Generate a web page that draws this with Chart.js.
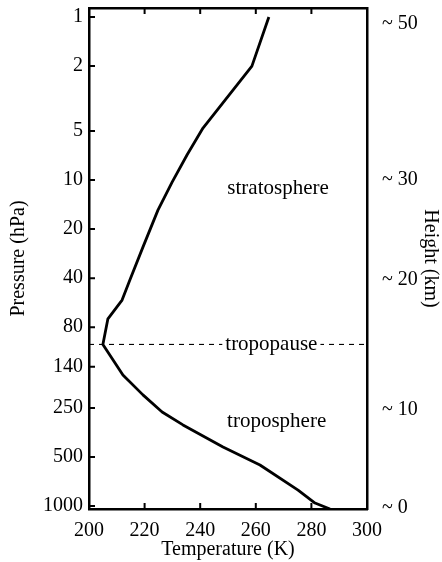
<!DOCTYPE html>
<html>
<head>
<meta charset="utf-8">
<script src="https://cdn.jsdelivr.net/npm/chart.js@4/dist/chart.umd.min.js"></script>
<style>
  html, body { margin: 0; padding: 0; background: #fff; }
  canvas { display: block; }
</style>
</head>
<body>
<canvas id="c" width="442" height="562"></canvas>
<script>
// ---- data ----
const temperatureK = [264.7, 258.6, 241.0, 235.3, 229.9, 224.8, 219.4, 214.7, 211.9, 206.8, 205.0, 212.2, 219.4, 226.3, 233.8, 248.2, 261.5, 275.2, 281.3, 286.7];
const pressureHPa  = [1, 2, 4.8, 7, 10.3, 15.3, 25.8, 41, 54.5, 71, 102, 157, 208, 265, 318, 435, 560, 798, 959, 1043];

const pressureTicks = [1, 2, 5, 10, 20, 40, 80, 140, 250, 500, 1000];
const heightTickPressures = [1.1, 10, 41, 258, 1030];
const heightTickLabels = ['~ 50', '~ 30', '~ 20', '~ 10', '~ 0'];
const temperatureTicks = [200, 220, 240, 260, 280, 300];

const tropopausePressure = 102;
const tropopauseTemps = [200, 300];

const regionTexts = ['stratosphere', 'tropopause', 'troposphere'];
const regionTemps = [268, 265.6, 267.5];
const regionPressures = [11.2, 102, 305];

const FONT = { family: '"Liberation Serif", "Times New Roman", serif', size: 20 };
const LABEL_FONT_SIZE = 21;
const P_MIN = 0.88, P_MAX = 1043;
const TICK_LEN = 6;

const labelPlugin = {
  id: 'regionLabels',
  afterDatasetsDraw(chart) {
    const ctx = chart.ctx;
    const xs = chart.scales.x, ys = chart.scales.y;
    ctx.save();
    ctx.font = LABEL_FONT_SIZE + 'px ' + FONT.family;
    ctx.textAlign = 'center';
    ctx.textBaseline = 'middle';
    regionTexts.forEach((t, i) => {
      const x = xs.getPixelForValue(regionTemps[i]);
      const y = ys.getPixelForValue(regionPressures[i]);
      const w = ctx.measureText(t).width;
      ctx.fillStyle = '#fff';
      ctx.fillRect(x - w / 2 - 3, y - 8, w + 6, 16);
      ctx.fillStyle = '#000';
      ctx.fillText(t, x, y);
    });
    ctx.restore();
  }
};

// inward tick marks, positioned through the chart's own scales
const innerTicksPlugin = {
  id: 'innerTicks',
  afterDraw(chart) {
    const ctx = chart.ctx, a = chart.chartArea;
    const xs = chart.scales.x, ys = chart.scales.y;
    ctx.save();
    ctx.strokeStyle = '#000';
    ctx.lineWidth = 2;
    ctx.beginPath();
    temperatureTicks.forEach(v => {
      const x = xs.getPixelForValue(v);
      ctx.moveTo(x, a.bottom); ctx.lineTo(x, a.bottom - TICK_LEN);
      ctx.moveTo(x, a.top); ctx.lineTo(x, a.top + TICK_LEN);
    });
    pressureTicks.forEach(v => {
      const y = ys.getPixelForValue(v);
      ctx.moveTo(a.left, y); ctx.lineTo(a.left + TICK_LEN, y);
    });
    ctx.stroke();
    ctx.restore();
  }
};

const noPadX = (h) => s => { s.height = h; s.paddingLeft = 0; s.paddingRight = 0; };
const noPadY = (w) => s => { s.width = w; s.paddingTop = 0; s.paddingBottom = 0; };
const NO_GRID = { drawOnChartArea: false, drawTicks: false };

new Chart(document.getElementById('c'), {
  type: 'line',
  data: {
    datasets: [
      {
        data: tropopauseTemps.map(t => ({ x: t, y: tropopausePressure })),
        borderColor: '#000',
        borderWidth: 1.1,
        borderDash: [5, 5],
        pointRadius: 0,
        xAxisID: 'x', yAxisID: 'y'
      },
      {
        data: temperatureK.map((t, i) => ({ x: t, y: pressureHPa[i] })),
        borderColor: '#000',
        borderWidth: 2.8,
        pointRadius: 0,
        tension: 0,
        borderJoinStyle: 'round',
        xAxisID: 'x', yAxisID: 'y'
      }
    ]
  },
  options: {
    responsive: false,
    animation: false,
    layout: { padding: 0 },
    plugins: { legend: { display: false }, tooltip: { enabled: false } },
    scales: {
      x: {
        type: 'linear', position: 'bottom', min: 200, max: 300,
        afterBuildTicks: s => { s.ticks = temperatureTicks.map(v => ({ value: v })); },
        afterFit: noPadX(53),
        border: { display: true, color: '#000', width: 2.5 },
        grid: NO_GRID,
        ticks: { color: '#000', font: FONT, padding: 10, maxRotation: 0, callback: v => String(v) },
        title: { display: true, text: 'Temperature (K)', color: '#000', font: FONT, padding: { top: 0, bottom: 0 } }
      },
      x2: {
        type: 'linear', position: 'top', min: 200, max: 300,
        afterFit: noPadX(8),
        border: { display: true, color: '#000', width: 2.5 },
        grid: NO_GRID,
        ticks: { display: false }
      },
      y: {
        type: 'logarithmic', position: 'left', reverse: true, min: P_MIN, max: P_MAX,
        afterBuildTicks: s => { s.ticks = pressureTicks.map(v => ({ value: v })); },
        afterFit: noPadY(89),
        border: { display: true, color: '#000', width: 2.5 },
        grid: NO_GRID,
        ticks: { color: '#000', font: FONT, padding: 6, autoSkip: false, callback: v => String(v) },
        title: { display: true, text: 'Pressure (hPa)', color: '#000', font: FONT, padding: { top: 7, bottom: 0 } }
      },
      y2: {
        type: 'logarithmic', position: 'right', reverse: true, min: P_MIN, max: P_MAX,
        afterBuildTicks: s => { s.ticks = heightTickPressures.map(v => ({ value: v })); },
        afterFit: noPadY(75),
        border: { display: true, color: '#000', width: 2.5 },
        grid: NO_GRID,
        ticks: { color: '#000', font: FONT, padding: 15, autoSkip: false,
          callback: (v, i) => heightTickLabels[i] },
        title: { display: true, text: 'Height (km)', color: '#000', font: FONT, padding: { top: 0, bottom: 0 } }
      }
    }
  },
  plugins: [labelPlugin, innerTicksPlugin]
});
</script>
</body>
</html>
